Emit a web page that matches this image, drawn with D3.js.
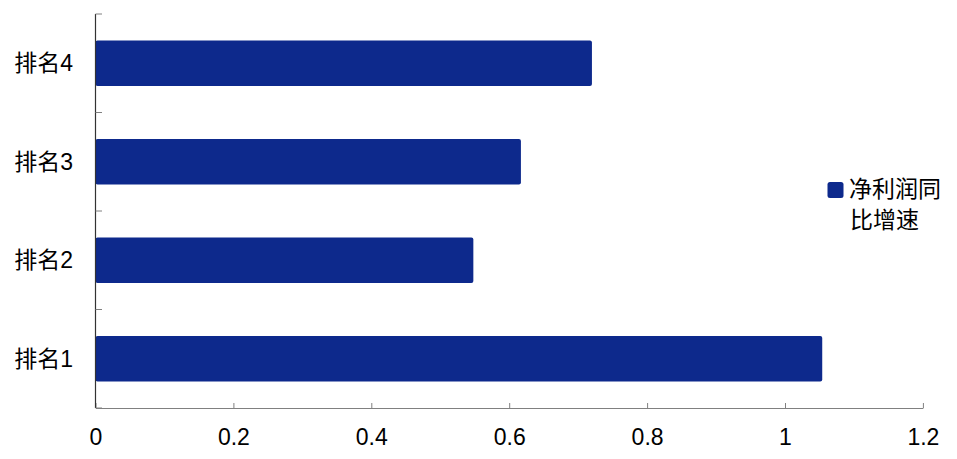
<!DOCTYPE html>
<html><head><meta charset="utf-8">
<script src="https://cdn.jsdelivr.net/npm/d3@7"></script>
<style>body{margin:0;background:#fff}svg{display:block}text{font-family:"Liberation Sans","Noto Sans CJK SC",sans-serif}</style>
</head><body><svg id="c" width="957" height="459"></svg>
<script>
const categories = ["排名1","排名2","排名3","排名4"];
const values = [1.054, 0.548, 0.617, 0.720];
const xTicks = [0,0.2,0.4,0.6,0.8,1,1.2];
const xTickLabels = ["0","0.2","0.4","0.6","0.8","1","1.2"];
const seriesName = ["净利润同","比增速"];

const svg = d3.select("#c");
const x = d3.scaleLinear().domain([0,1.2]).range([95.5,922.9]);
const y = d3.scaleBand().domain(categories.slice().reverse()).range([14,408]).paddingInner(0.54).paddingOuter(0.27);
const color = "#0d298c";
const fs = 23;

// bars
svg.append("g").selectAll("rect").data(categories).join("rect")
  .attr("x", x(0)).attr("y", d=>y(d))
  .attr("width", (d,i)=>x(values[i])-x(0)).attr("height", y.bandwidth())
  .attr("rx",2).attr("fill", color);

// x axis
const gx = svg.append("g").attr("transform","translate(0,408)")
  .call(d3.axisBottom(x).tickValues(xTicks).tickFormat((d,i)=>xTickLabels[i]).tickSizeInner(-5).tickSizeOuter(0));
gx.select(".domain").attr("stroke","#808080").attr("stroke-width",1.2);
gx.selectAll(".tick line").attr("stroke","#808080");
gx.selectAll(".tick text").attr("font-size",fs).attr("fill","#000").attr("y",37).attr("dy",null);

// y axis line and ticks
const yEdges = [14,112.5,211,309.5,408];
svg.append("line").attr("x1",95.5).attr("x2",95.5).attr("y1",14).attr("y2",408).attr("stroke","#333").attr("stroke-width",1.2);
svg.append("g").selectAll("line").data(yEdges).join("line")
  .attr("x1",95.5).attr("x2",102).attr("y1",d=>d).attr("y2",d=>d).attr("stroke","#808080");
svg.append("g").selectAll("text").data(categories).join("text")
  .attr("x",73).attr("y",d=>y(d)+y.bandwidth()/2+8)
  .attr("text-anchor","end").attr("font-size",fs).attr("fill","#000").text(d=>d);

// legend
const lg = svg.append("g");
lg.append("rect").attr("x",827.5).attr("y",182).attr("width",16).attr("height",16).attr("rx",2.5).attr("fill",color);
lg.append("text").attr("x",849).attr("y",197).attr("font-size",fs).attr("fill","#000").text(seriesName[0]);
lg.append("text").attr("x",850).attr("y",228).attr("font-size",fs).attr("fill","#000").text(seriesName[1]);
</script></body></html>
